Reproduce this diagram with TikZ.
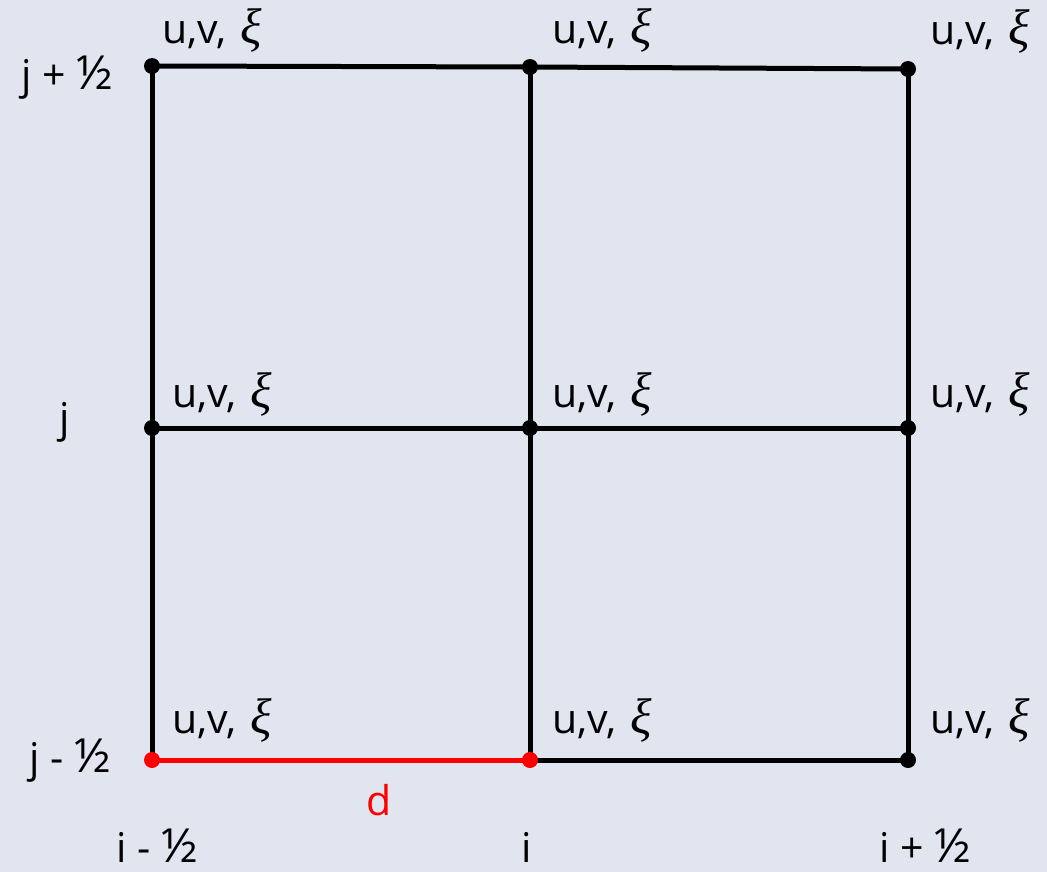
\documentclass[tikz,border=0pt]{standalone}
\usepackage{fontspec}
\setmainfont{Open Sans}
\newfontfamily\grk{Liberation Serif}
\newcommand{\myxi}{\hspace{3pt}{\grk\itshape\fontsize{50}{50}\selectfont ξ}}
\newcommand{\hf}{{\fontsize{47}{48}\selectfont ½}}
\definecolor{bg}{RGB}{224,229,239}
\definecolor{myred}{RGB}{255,0,0}
\begin{document}
\begin{tikzpicture}[x=1pt,y=-1pt,
  dot/.style={circle,fill=black,inner sep=0pt,minimum size=16pt},
  rdot/.style={circle,fill=myred,inner sep=0pt,minimum size=16pt},
  edge/.style={line width=5pt},
  redge/.style={line width=5pt,draw=myred},
  lbl/.style={anchor=base west,inner sep=0pt,font=\fontsize{41}{44}\selectfont},
  idx/.style={anchor=base,inner sep=0pt,text depth=0pt,font=\fontsize{41}{44}\selectfont}]
\fill[bg] (0,0) rectangle (1047,872);
\useasboundingbox (0,0) rectangle (1047,872);
% grid nodes
\coordinate (a1) at (152,66);
\coordinate (a2) at (530,67);
\coordinate (a3) at (908,69);
\coordinate (b1) at (152,428);
\coordinate (b2) at (530,428);
\coordinate (b3) at (908,428);
\coordinate (c1) at (152,760);
\coordinate (c2) at (530,760);
\coordinate (c3) at (908,760);
% lines
\draw[edge] (a1) -- (a2) -- (a3);
\draw[edge] (b1) -- (b2) -- (b3);
\draw[edge] (c2) -- (c3);
\draw[edge] (a1) -- (b1) -- (c1);
\draw[edge] (a2) -- (b2) -- (c2);
\draw[edge] (a3) -- (b3) -- (c3);
\draw[redge] (c1) -- (c2);
% dots
\foreach \p in {a1,a2,a3,b1,b2,b3,c3} \node[dot] at (\p) {};
\node[rdot] at (c1) {};
\node[rdot] at (c2) {};
% variable labels
\node[lbl] (la1) at (162,44) {u,v, \myxi};
\node[lbl] (la2) at (552,44) {u,v, \myxi};
\node[lbl] (la3) at (930,45) {u,v, \myxi};
\node[lbl] (lb1) at (172,407) {u,v, \myxi};
\node[lbl] (lb2) at (552,407) {u,v, \myxi};
\node[lbl] (lb3) at (930,407) {u,v, \myxi};
\node[lbl] (lc1) at (172,733) {u,v, \myxi};
\node[lbl] (lc2) at (552,733) {u,v, \myxi};
\node[lbl] (lc3) at (930,733) {u,v, \myxi};
% index labels
\node[idx] (jp) at (67,90) {j + \hf};
\node[idx] (j) at (65,432) {j};
\node[idx] (jm) at (70,772) {j - \hf};
\node[idx] (im) at (157,862) {i - \hf};
\node[idx] (i) at (527,862) {i};
\node[idx] (ip) at (925,862) {i + \hf};
\node[idx,text=myred] (d) at (379,815) {d};
\end{tikzpicture}
\end{document}
